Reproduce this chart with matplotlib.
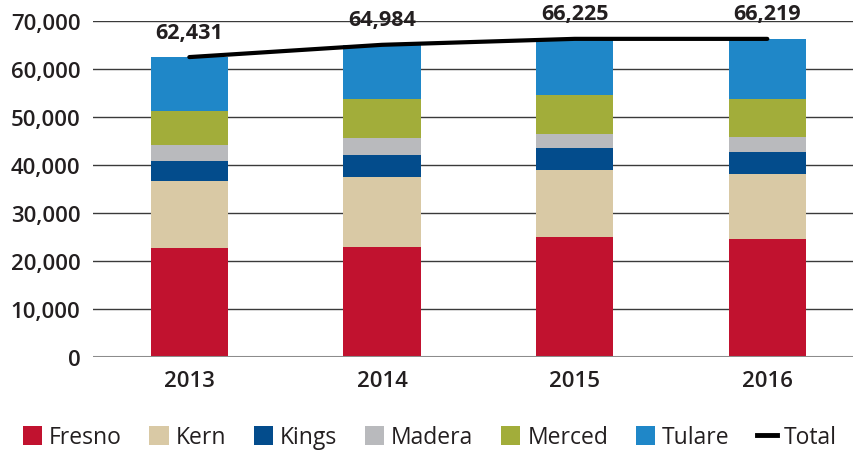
import matplotlib
matplotlib.use("Agg")
import matplotlib.pyplot as plt
from matplotlib.patches import Patch
from matplotlib.lines import Line2D
import numpy as np

years = ["2013", "2014", "2015", "2016"]
fresno = [22730, 22870, 25020, 24670]
kern = [13860, 14690, 13930, 13510]
kings = [4230, 4440, 4640, 4440]
madera = [3390, 3670, 2910, 3190]
merced = [6930, 8040, 8110, 7900]
tulare = [11291, 11274, 11615, 12509]
totals = [62431, 64984, 66225, 66219]

series = [("Fresno", fresno, "#c1122f"), ("Kern", kern, "#d9c9a5"),
          ("Kings", kings, "#034c8c"), ("Madera", madera, "#b9babd"),
          ("Merced", merced, "#a2ad3a"), ("Tulare", tulare, "#1f87c8")]

txt = "#231f20"
plt.rcParams["font.family"] = ["Open Sans", "DejaVu Sans"]

fig = plt.figure(figsize=(8.54, 4.52), dpi=100)
ax = fig.add_axes([0.1089, 0.2073, 0.8911, 0.7447])

x = np.arange(len(years))
bottom = np.zeros(len(years))
for name, vals, col in series:
    ax.bar(x, vals, 0.4, bottom=bottom, color=col, zorder=3)
    bottom += np.array(vals)

ax.plot(x, totals, color="black", lw=3, solid_capstyle="round", zorder=4)
for xi, t in zip(x, totals):
    ax.annotate(f"{t:,}", (xi, t), xytext=(0, 18), textcoords="offset points",
                ha="center", va="center", fontsize=15.5, fontweight="bold",
                color=txt, annotation_clip=False, zorder=5)

ax.set_xlim(-0.5, 3.45)
ax.set_ylim(0, 70000)
ax.set_yticks(range(0, 70001, 10000))
ax.set_yticklabels([f"{v:,}" for v in range(0, 70001, 10000)])
ax.set_xticks(x)
ax.set_xticklabels(years)
ax.tick_params(length=0, labelsize=16, labelcolor=txt, pad=9)
for lab in ax.get_xticklabels() + ax.get_yticklabels():
    lab.set_fontweight("semibold")
for s in ax.spines.values():
    s.set_visible(False)
for v in range(10000, 70001, 10000):
    ax.axhline(v, color="#3a3a3a", lw=1, zorder=1)
ax.axhline(0, color="#8c8c8c", lw=2.2, zorder=4)

handles = [Patch(facecolor=c, label=n) for n, _, c in series]
handles.append(Line2D([], [], color="black", lw=3.5, label="Total"))
fig.legend(handles=handles, loc="center", bbox_to_anchor=(0.503, 0.03), ncol=7,
           frameon=False, fontsize=16.5, handlelength=0.85, handleheight=0.85,
           handletextpad=0.3, columnspacing=1.2, labelcolor=txt)

fig.savefig("out.png", dpi=100)
